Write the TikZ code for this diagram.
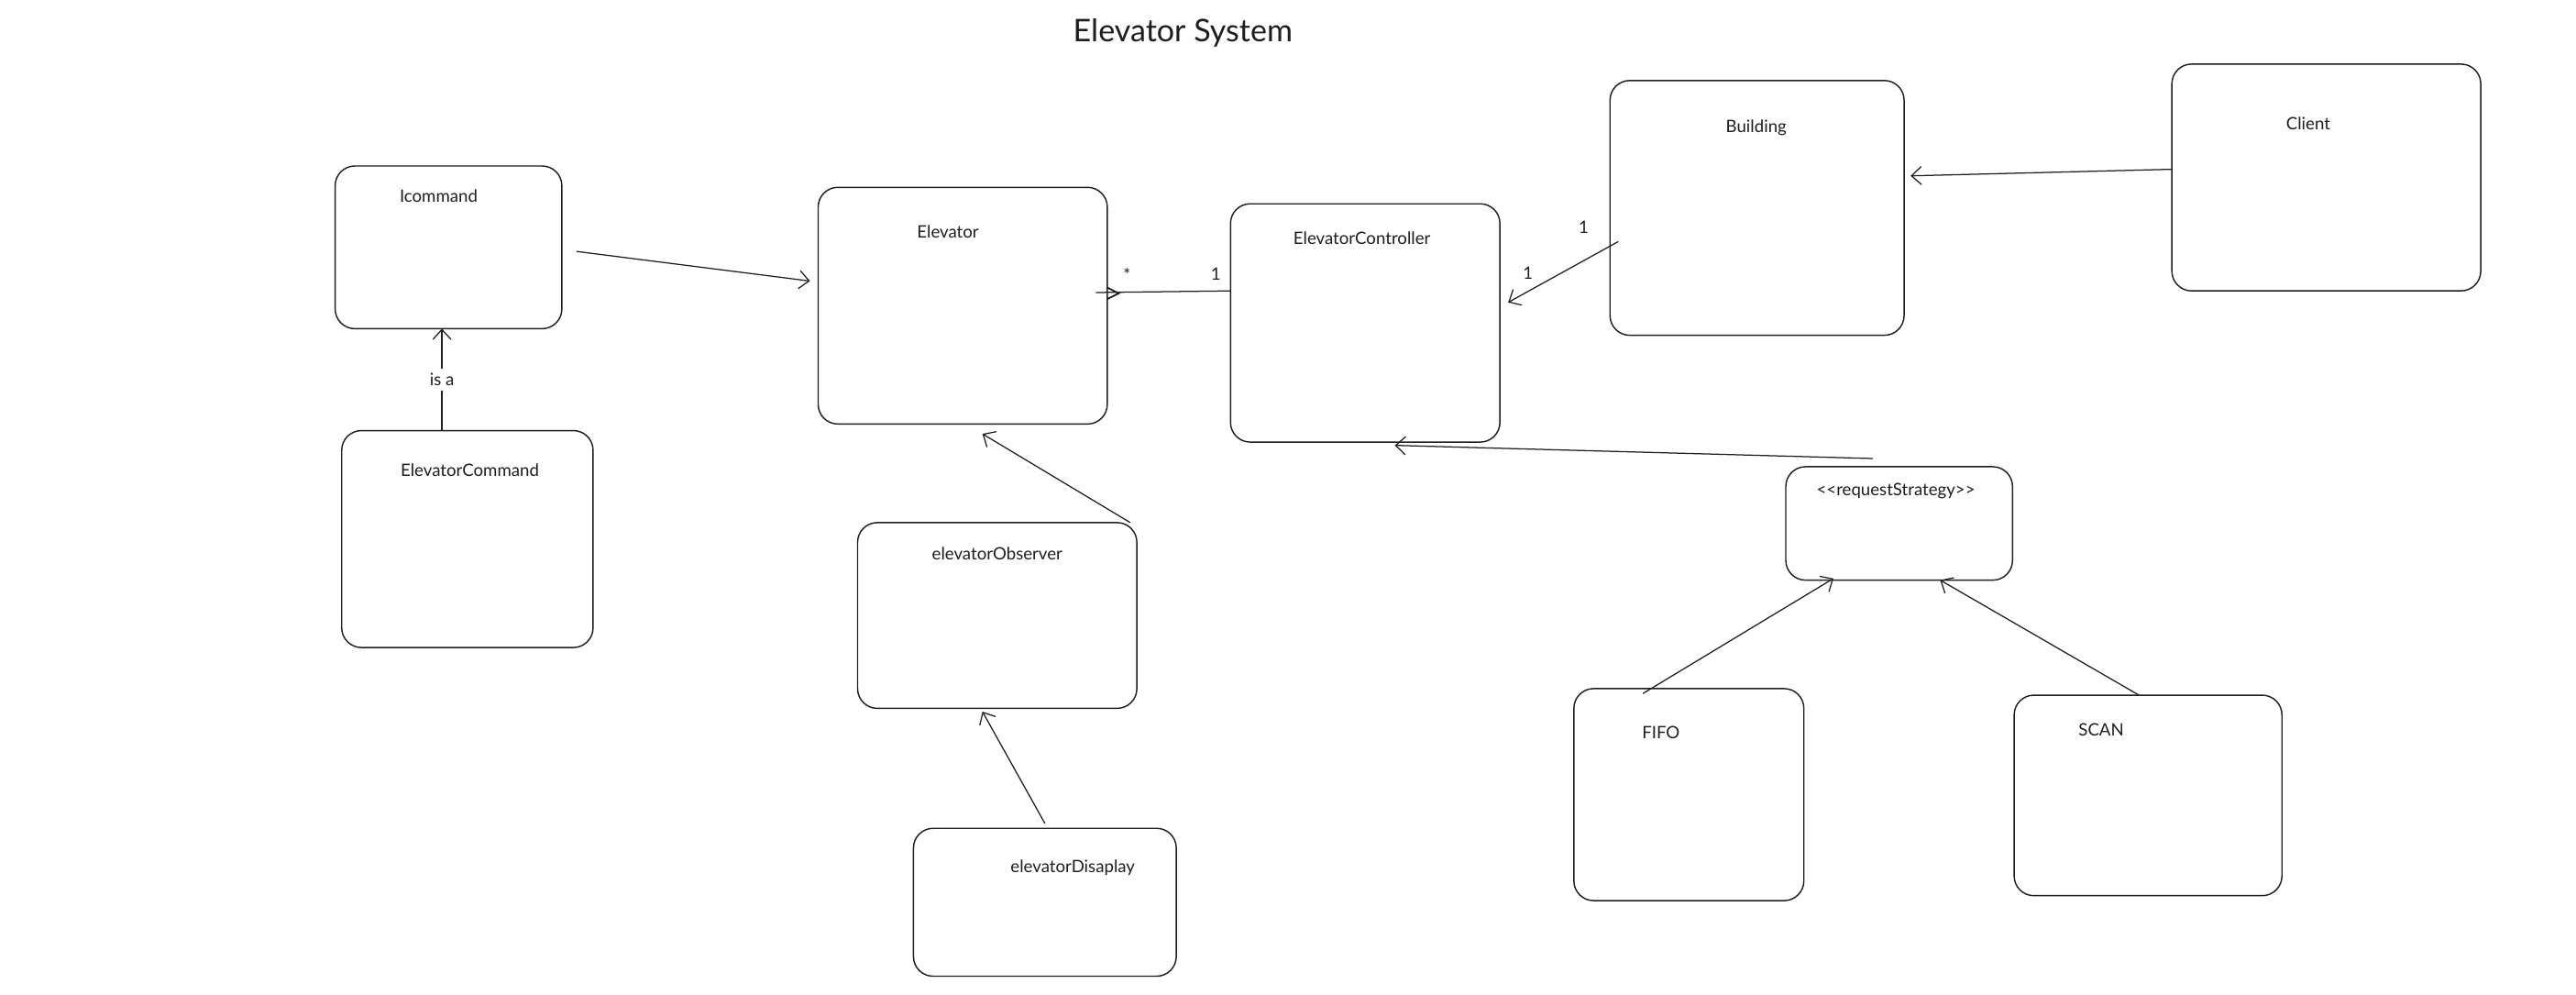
\documentclass[tikz,border=0pt]{standalone}
\usepackage{fontspec}
\setmainfont{Lato}[Ligatures=TeXOff]
\usetikzlibrary{arrows.meta,calc}
\definecolor{ink}{HTML}{1E1E1E}
\begin{document}
\begin{tikzpicture}[x=1pt,y=-1pt,
  box/.style={draw=ink, line width=0.8pt, rounded corners=12pt, inner sep=0pt, outer sep=0pt},
  lbl/.style={text=ink, inner sep=1pt, font=\fontsize{10.4}{12}\selectfont},
  mult/.style={text=ink, inner sep=1pt, font=\fontsize{10.4}{12}\selectfont},
  conn/.style={draw=ink, line width=0.7pt},
  arr/.style={conn, -{Straight Barb[length=6pt,width=11pt,line width=0.7pt]}}
]
\useasboundingbox (0,0) rectangle (1568,605);
\fill[white] (0,0) rectangle (1568,605);

% title
\node[text=ink, font=\fontsize{19}{22}\selectfont] (title) at (720,20) {Elevator System};

% boxes
\node[box, minimum width=138pt, minimum height=99pt]  (icmd)   at (273,150.5) {};
\node[box, minimum width=153pt, minimum height=132pt] (ecmd)   at (284.5,328) {};
\node[box, minimum width=176pt, minimum height=144pt] (elev)   at (586,186) {};
\node[box, minimum width=164pt, minimum height=145pt] (ctrl)   at (831,196.5) {};
\node[box, minimum width=179pt, minimum height=155pt] (bldg)   at (1069.5,126.5) {};
\node[box, minimum width=188pt, minimum height=138pt] (client) at (1416,108) {};
\node[box, minimum width=138pt, minimum height=69pt]  (strat)  at (1156,318.5) {};
\node[box, minimum width=140pt, minimum height=129pt] (fifo)   at (1028,483.5) {};
\node[box, minimum width=163pt, minimum height=122pt] (scan)   at (1307.5,484) {};
\node[box, minimum width=170pt, minimum height=113pt] (obs)    at (607,374.5) {};
\node[box, minimum width=160pt, minimum height=90pt]  (disp)   at (636,549) {};

% labels
\node[lbl] (icmdL)   at (267,119) {Icommand};
\node[lbl] (ecmdL)   at (286,286) {ElevatorCommand};
\node[lbl] (elevL)   at (577,141) {Elevator};
\node[lbl] (ctrlL)   at (829,145) {ElevatorController};
\node[lbl] (bldgL)   at (1069,78) {Building};
\node[lbl] (clientL) at (1405,75) {Client};
\node[lbl] (stratL)  at (1154,299) {<<requestStrategy>>};
\node[lbl] (fifoL)   at (1011,446) {FIFO};
\node[lbl] (scanL)   at (1279,444) {SCAN};
\node[lbl] (obsL)    at (607,337) {elevatorObserver};
\node[lbl] (dispL)   at (653,528) {elevatorDisaplay};

% connectors
\draw[arr] ($(icmd.east)+(9,2.5)$) -- ($(elev.west)+(-5,-15)$);
\draw[arr] ($(ecmd.north)+(-15.5,0)$) -- node[midway, fill=white, lbl, inner sep=3pt] (isa) {is a} ($(icmd.south)+(-4,0)$);

\draw[conn] ($(ctrl.west)+(0,-19.5)$) -- ($(elev.east)+(-7,-8)$);
\coordinate (chev) at ($(elev.east)+(7,-7.5)$);
\draw[conn, line width=1pt] ($(chev)+(-7,-3.5)$) -- (chev) -- ($(chev)+(-7,3.5)$);
\node[mult] (star) at (686,167) {*};
\node[mult] (oneA) at (740,167) {1};

\draw[arr] ($(bldg.west)+(5,20.5)$) -- ($(ctrl.east)+(5,-12.5)$);
\node[mult] (oneB) at (964,138) {1};
\node[mult] (oneC) at (930,166) {1};

\draw[arr] ($(client.west)+(0,-5)$) -- ($(bldg.east)+(4,-19.5)$);
\draw[arr] ($(strat.north)+(-16,-5)$) -- ($(ctrl.south)+(18,2)$);
\draw[arr] ($(fifo.north)+(-28,3)$) -- ($(strat.south)+(-40,-1)$);
\draw[arr] ($(scan.north)+(-5.5,0)$) -- ($(strat.south)+(25,0)$);
\draw[arr] ($(obs.north east)+(-4,0)$) -- ($(elev.south)+(12,6)$);
\draw[arr] ($(disp.north)+(0,-3)$) -- ($(obs.south)+(-9,2)$);
\end{tikzpicture}
\end{document}
